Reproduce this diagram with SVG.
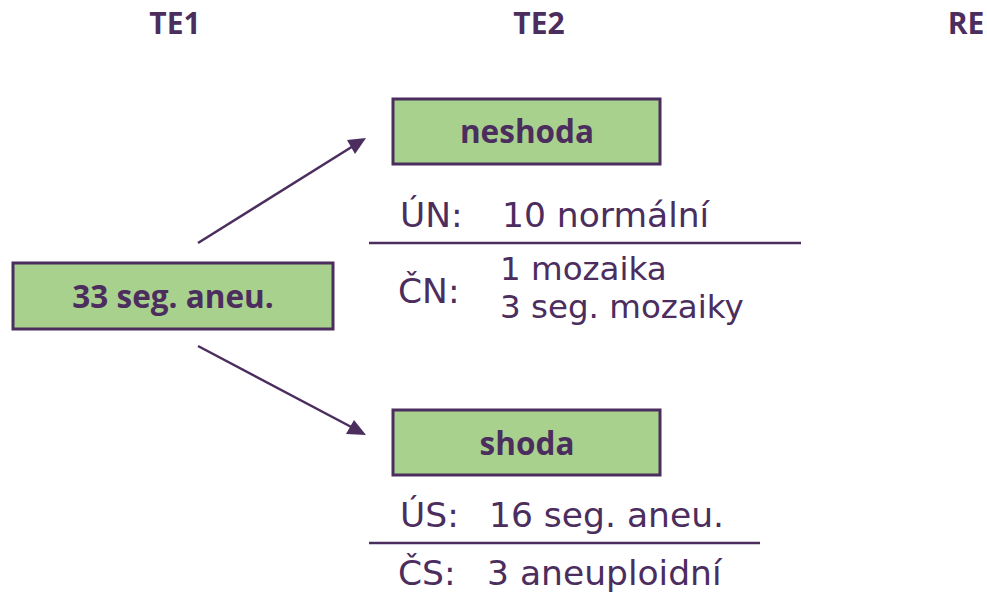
<svg xmlns="http://www.w3.org/2000/svg" width="987" height="598" viewBox="0 0 987 598">
<defs>
<style>
.hdr{font-family:"Open Sans","Liberation Sans",sans-serif;font-weight:bold;font-size:30px;fill:#4B2D5E;text-anchor:middle}
.box{fill:#A9D18E;stroke:#4B2D5E;stroke-width:3}
.bt{font-family:"Open Sans","Liberation Sans",sans-serif;font-weight:bold;font-size:31.5px;fill:#4B2D5E;text-anchor:middle}
.tx{font-family:"DejaVu Sans","Open Sans",sans-serif;font-size:34.5px;fill:#4B2D5E}
.tx2{font-family:"DejaVu Sans","Open Sans",sans-serif;font-size:32.5px;fill:#4B2D5E}
.rule{stroke:#4B2D5E;stroke-width:2.5}
.conn{stroke:#4B2D5E;stroke-width:2.5;fill:none}
.head{fill:#4B2D5E}
</style>
</defs>
<g id="headers">
<text class="hdr" x="175" y="34">TE1</text>
<text class="hdr" x="539" y="34">TE2</text>
<text class="hdr" x="966" y="34">RE</text>
</g>
<g id="connectors">
<line class="conn" x1="198" y1="243" x2="358" y2="143"/>
<polygon class="head" points="366,138 347,140 355,154"/>
<line class="conn" x1="198" y1="346" x2="357" y2="430"/>
<polygon class="head" points="366,435 354,420 346,434"/>
</g>
<g id="node-start">
<rect class="box" x="13" y="263" width="320" height="66"/>
<text class="bt" x="173" y="308">33 seg. aneu.</text>
</g>
<g id="node-neshoda">
<rect class="box" x="393" y="99" width="267" height="65"/>
<text class="bt" x="527" y="143">neshoda</text>
</g>
<g id="neshoda-details">
<text class="tx" x="400" y="227">ÚN:</text>
<text class="tx" x="502" y="227">10 normální</text>
<line class="rule" x1="369" y1="243" x2="801" y2="243"/>
<text class="tx" x="398" y="303">ČN:</text>
<text class="tx2"><tspan x="500" y="280">1 mozaika</tspan><tspan x="500" y="318">3 seg. mozaiky</tspan></text>
</g>
<g id="node-shoda">
<rect class="box" x="393" y="410" width="267" height="65"/>
<text class="bt" x="527" y="455">shoda</text>
</g>
<g id="shoda-details">
<text class="tx" x="400" y="527">ÚS:</text>
<text class="tx" x="489" y="527">16 seg. aneu.</text>
<line class="rule" x1="369" y1="543" x2="760" y2="543"/>
<text class="tx" x="398" y="585">ČS:</text>
<text class="tx" x="487" y="585">3 aneuploidní</text>
</g>
</svg>
